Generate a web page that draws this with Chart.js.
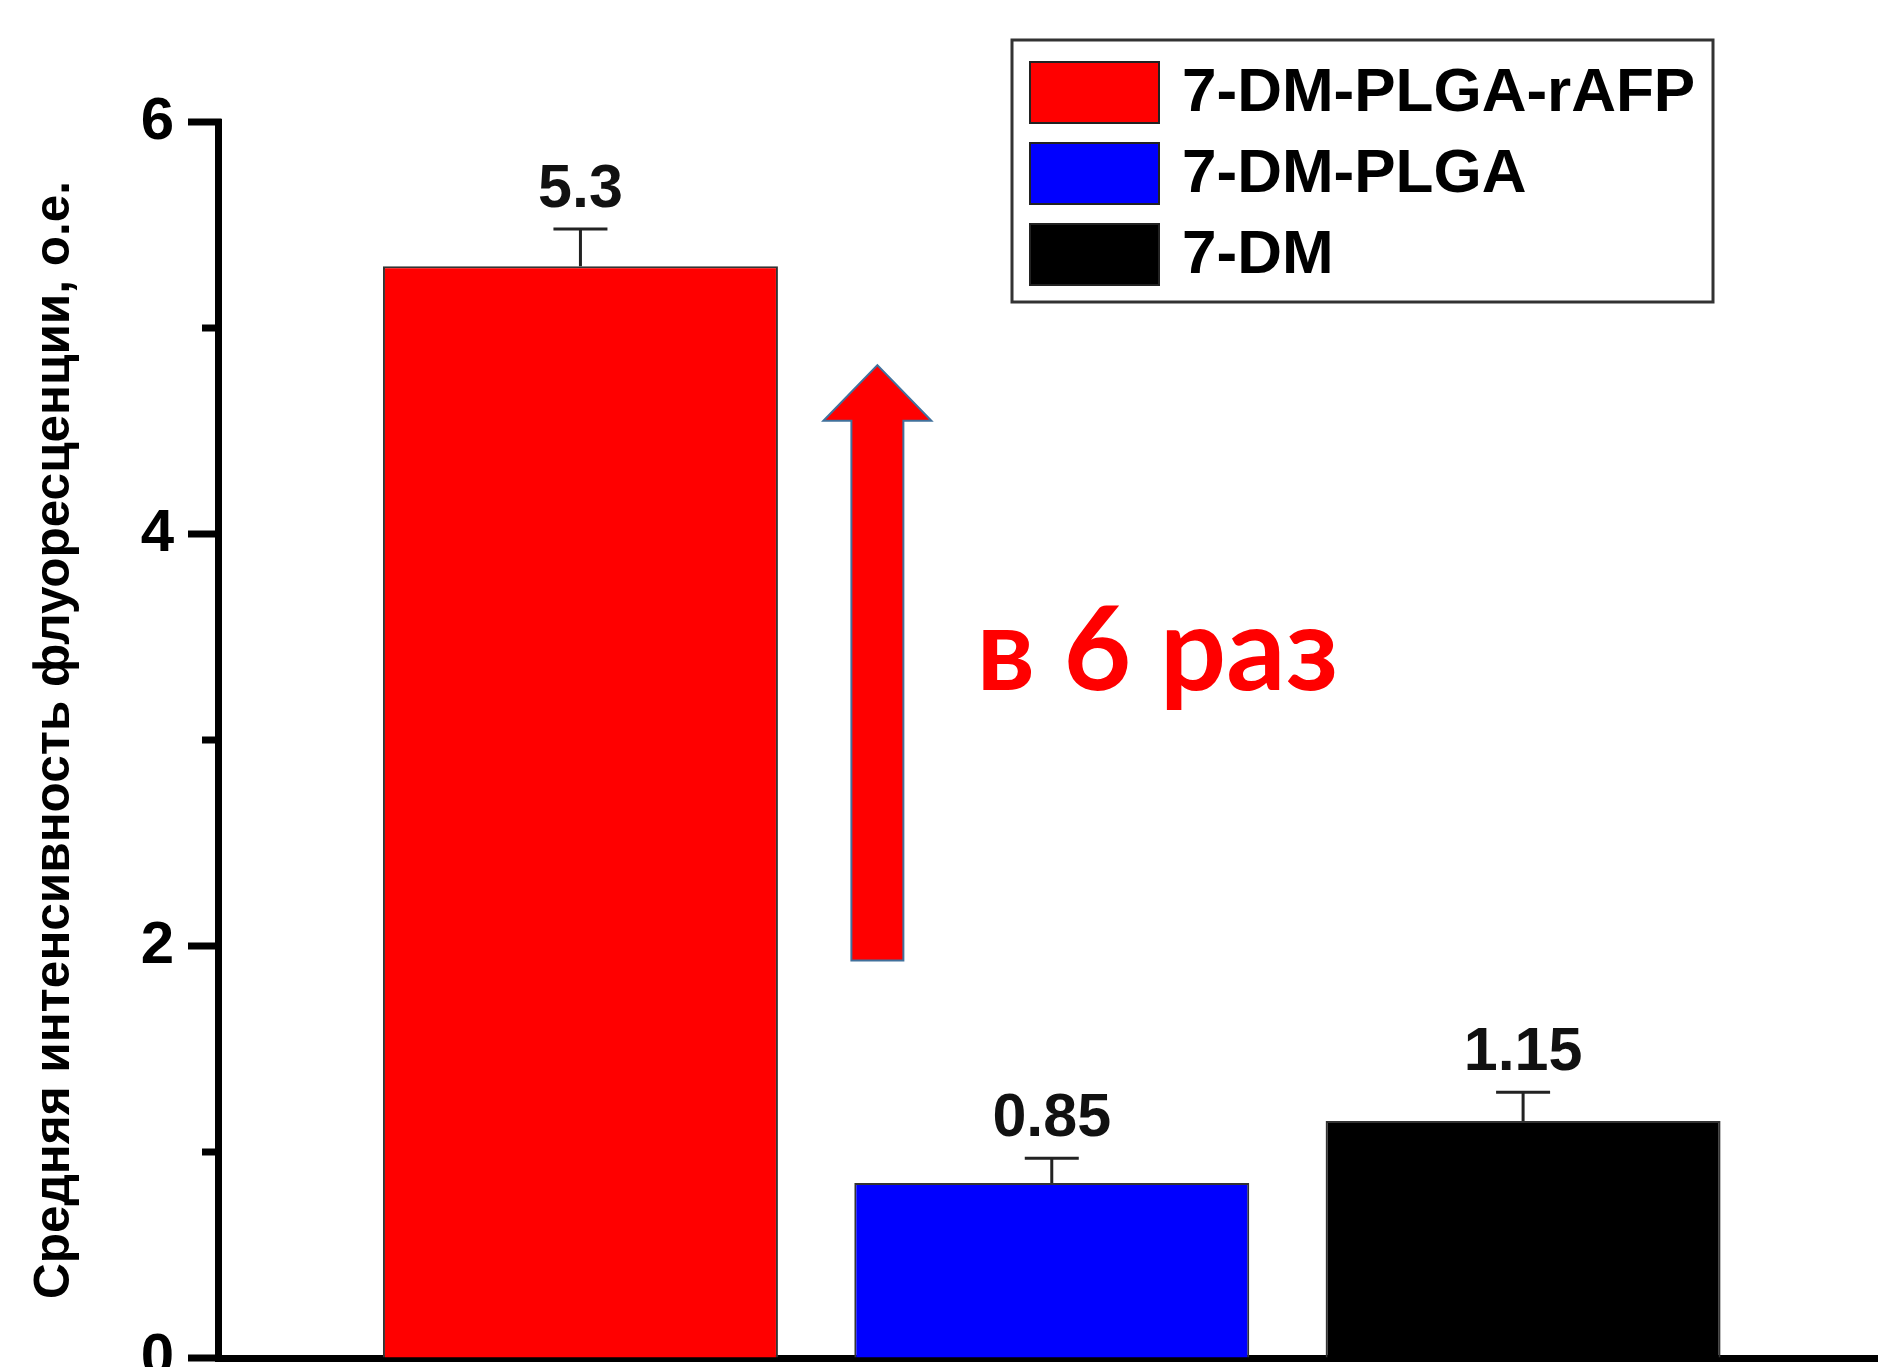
<!DOCTYPE html>
<html><head><meta charset="utf-8">
<script src="https://cdn.jsdelivr.net/npm/chart.js@4/dist/chart.umd.min.js"></script>
<style>html,body{margin:0;padding:0;background:#fff}canvas{display:block}</style>
</head><body>
<canvas id="c" width="1878" height="1367"></canvas>
<script>
// ---- data ----
const categories = ['7-DM-PLGA-rAFP', '7-DM-PLGA', '7-DM'];
const values = [5.3, 0.85, 1.15];
const errors = [0.18, 0.12, 0.14];
const valueLabels = ['5.3', '0.85', '1.15'];
const barColors = ['#ff0000', '#0000ff', '#000000'];
const yTickLabels = { 0: '0', 2: '2', 4: '4', 6: '6' };
const yTitle = 'Средняя интенсивность флуоресценции, о.е.';
const annotationText = 'в 6 раз';
// annotation arrow (in data units)
const arrowX = 1.63, arrowFromY = 1.93, arrowHeadY = 4.55, arrowTipY = 4.82;
const annotationX = 1.84, annotationY = 3.243;

const ARIAL = '"Liberation Sans", Arial, Helvetica, sans-serif';

const decor = {
  id: 'decor',
  afterDatasetsDraw(chart) {
    const ctx = chart.ctx, xs = chart.scales.x, ys = chart.scales.y;
    const meta = chart.getDatasetMeta(0);
    ctx.save();
    // error bars + value labels
    meta.data.forEach((bar, i) => {
      const top = ys.getPixelForValue(values[i] + errors[i]);
      ctx.strokeStyle = '#222'; ctx.lineWidth = 3; ctx.lineCap = 'butt';
      ctx.beginPath();
      ctx.moveTo(bar.x, bar.y); ctx.lineTo(bar.x, top);
      ctx.moveTo(bar.x - 27, top); ctx.lineTo(bar.x + 27, top);
      ctx.stroke();
      ctx.fillStyle = '#111';
      ctx.font = 'bold 61px ' + ARIAL;
      ctx.textAlign = 'center'; ctx.textBaseline = 'alphabetic';
      ctx.fillText(valueLabels[i], bar.x, top - 22);
    });
    // arrow
    const ax = xs.getPixelForValue(arrowX);
    const yb = ys.getPixelForValue(arrowFromY);
    const yh = ys.getPixelForValue(arrowHeadY);
    const yt = ys.getPixelForValue(arrowTipY);
    const sw = 26, hw = 54;
    ctx.beginPath();
    ctx.moveTo(ax - sw, yb); ctx.lineTo(ax - sw, yh); ctx.lineTo(ax - hw, yh);
    ctx.lineTo(ax, yt); ctx.lineTo(ax + hw, yh); ctx.lineTo(ax + sw, yh);
    ctx.lineTo(ax + sw, yb); ctx.closePath();
    ctx.fillStyle = '#ff0000'; ctx.fill();
    ctx.strokeStyle = '#41719c'; ctx.lineWidth = 2; ctx.stroke();
    // annotation text
    ctx.fillStyle = '#ff0000';
    ctx.font = 'bold 117px Lato, "Open Sans", sans-serif';
    ctx.textAlign = 'left'; ctx.textBaseline = 'alphabetic';
    ctx.fillText(annotationText, xs.getPixelForValue(annotationX), ys.getPixelForValue(annotationY));
    ctx.restore();
  },
  afterDraw(chart) {
    const ctx = chart.ctx, ys = chart.scales.y, left = chart.chartArea.left;
    ctx.save();
    // y tick marks (major labelled, minor unlabelled)
    ctx.strokeStyle = '#000'; ctx.lineWidth = 7; ctx.lineCap = 'butt';
    ys.ticks.forEach(t => {
      const y = ys.getPixelForValue(t.value);
      const len = (t.value in yTickLabels) ? 30 : 16;
      ctx.beginPath(); ctx.moveTo(left + 3.5, y); ctx.lineTo(left - len, y); ctx.stroke();
    });
    // legend
    ctx.strokeStyle = '#333'; ctx.lineWidth = 3;
    ctx.strokeRect(1012, 40, 701, 262);
    categories.forEach((c, i) => {
      const y = 62 + i * 81;
      ctx.fillStyle = barColors[i];
      ctx.fillRect(1030, y, 129, 61);
      ctx.strokeStyle = '#222'; ctx.lineWidth = 2;
      ctx.strokeRect(1030, y, 129, 61);
      ctx.fillStyle = '#000';
      ctx.font = 'bold 62px ' + ARIAL;
      ctx.textAlign = 'left'; ctx.textBaseline = 'middle';
      ctx.fillText(c, 1182, y + 32);
    });
    ctx.restore();
  }
};

new Chart(document.getElementById('c'), {
  type: 'bar',
  data: {
    datasets: [{
      data: values.map((v, i) => ({ x: i + 1, y: v })),
      backgroundColor: barColors,
      borderColor: '#333',
      borderWidth: 2,
      categoryPercentage: 1,
      barPercentage: 0.838
    }]
  },
  options: {
    responsive: false, animation: false, devicePixelRatio: 1,
    layout: { padding: { top: 122, left: 0, right: 0, bottom: 0 } },
    plugins: { legend: { display: false }, tooltip: { enabled: false } },
    scales: {
      x: {
        type: 'linear', min: 0.231, max: 3.753, offset: false,
        ticks: { display: false },
        grid: { display: false, offset: false },
        border: { display: true, color: '#000', width: 7 },
        afterBuildTicks: s => { s.ticks = categories.map((c, i) => ({ value: i + 1 })); },
        afterFit: s => { s.height = 9; s.paddingLeft = 0; s.paddingRight = 0; }
      },
      y: {
        min: 0, max: 6,
        ticks: {
          stepSize: 1, autoSkip: false, padding: 14, color: '#000',
          font: { family: ARIAL, size: 60, weight: 'bold' },
          callback: v => (v in yTickLabels ? yTickLabels[v] : '')
        },
        grid: { display: true, drawOnChartArea: false, drawTicks: true, tickLength: 30, color: 'rgba(0,0,0,0)' },
        border: { display: true, color: '#000', width: 7 },
        title: {
          display: true, text: yTitle, color: '#000',
          font: { family: ARIAL, size: 49.5, weight: 'bold' },
          padding: { top: 26, bottom: 0 }
        },
        afterFit: s => { s.width = 218; s.paddingTop = 0; s.paddingBottom = 0; }
      }
    }
  },
  plugins: [decor]
});
</script>
</body></html>
